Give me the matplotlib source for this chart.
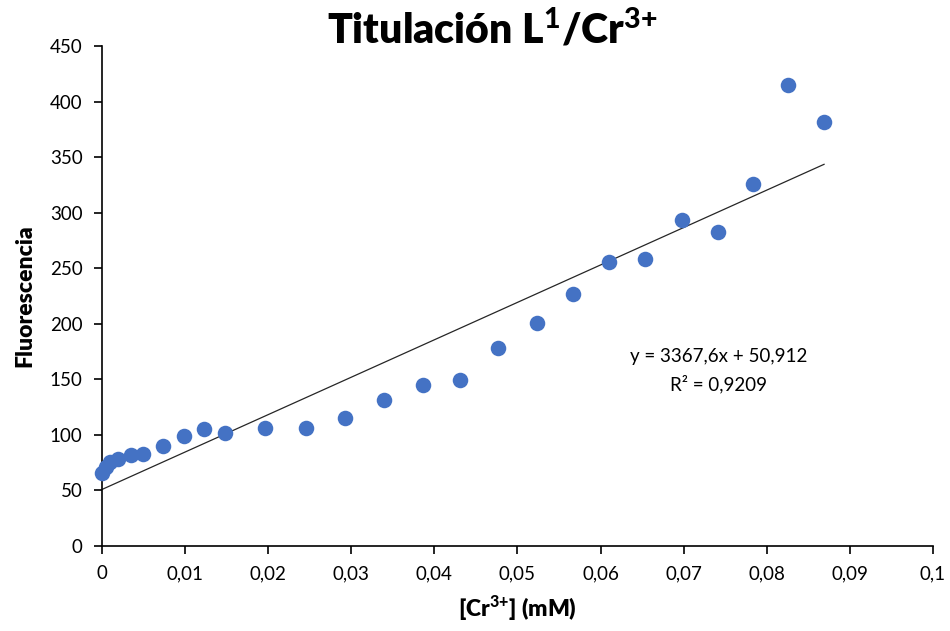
import matplotlib
matplotlib.use("Agg")
import matplotlib.pyplot as plt
from matplotlib.ticker import FuncFormatter
import numpy as np

# Titration data: Cr(III) concentration (mM) vs fluorescence intensity
conc_mM = [0.0000, 0.0005, 0.0009, 0.0019, 0.0035, 0.0049, 0.0073, 0.0099,
           0.0123, 0.0148, 0.0196, 0.0245, 0.0293, 0.0339, 0.0386, 0.0431,
           0.0477, 0.0523, 0.0567, 0.0610, 0.0654, 0.0698, 0.0741, 0.0784,
           0.0826, 0.0869]
fluorescence = [66, 71, 76, 78, 82, 83, 90, 99,
                105, 102, 106.5, 106, 115, 131, 145, 149,
                178, 201, 227, 256, 258, 293, 283, 326,
                415, 382]

# Linear fit reported on the chart
slope = 3367.6
intercept = 50.912
r_squared = 0.9209

x_ticks = [0, 0.01, 0.02, 0.03, 0.04, 0.05, 0.06, 0.07, 0.08, 0.09, 0.1]
y_ticks = [0, 50, 100, 150, 200, 250, 300, 350, 400, 450]

plt.rcParams["font.family"] = ["Lato", "DejaVu Sans"]
plt.rcParams["mathtext.fontset"] = "custom"
plt.rcParams["mathtext.rm"] = "Lato"
plt.rcParams["mathtext.bf"] = "Lato:black"

fig = plt.figure(figsize=(9.5, 6.31), dpi=100)
ax = fig.add_axes([0.1074, 0.1347, 0.8746, 0.7923])

ax.scatter(conc_mM, fluorescence, s=125, color="#4472C4", zorder=3,
           linewidths=0, clip_on=False)

xf = np.array([0, max(conc_mM)])
ax.plot(xf, slope * xf + intercept, color="#262626", lw=0.9, zorder=2)

ax.set_xlim(0, 0.1)
ax.set_ylim(0, 450)
ax.set_xticks(x_ticks)
ax.set_yticks(y_ticks)


def comma_fmt(v, pos):
    s = f"{v:.2f}".rstrip("0").rstrip(".")
    return s.replace(".", ",")


ax.xaxis.set_major_formatter(FuncFormatter(comma_fmt))
for side in ("top", "right"):
    ax.spines[side].set_visible(False)
for side in ("left", "bottom"):
    ax.spines[side].set_color("#000000")
    ax.spines[side].set_linewidth(1.2)
ax.tick_params(axis="both", direction="out", length=6, width=1.2,
               labelsize=13.5, colors="#000000", pad=8)

ax.set_xlabel(r"[Cr$^{\mathbf{3{+}}}$] (mM)", fontsize=16.5, fontweight="heavy",
              labelpad=8)
ax.set_ylabel("Fluorescencia", fontsize=16.5, fontweight="heavy", labelpad=10)
fig.text(0.518, 0.953, r"Titulación L$^{\mathbf{1}}$/Cr$^{\mathbf{3{+}}}$",
         fontsize=29.5, fontweight="heavy", ha="center", va="center")

ax.text(0.0742, 171, f"y = {slope:.1f}x + {intercept:.3f}".replace(".", ","),
        fontsize=13.5, ha="center", va="center")
ax.text(0.0742, 146, f"R² = {r_squared:.4f}".replace(".", ","),
        fontsize=13.5, ha="center", va="center")

fig.savefig("out.png", dpi=100)
